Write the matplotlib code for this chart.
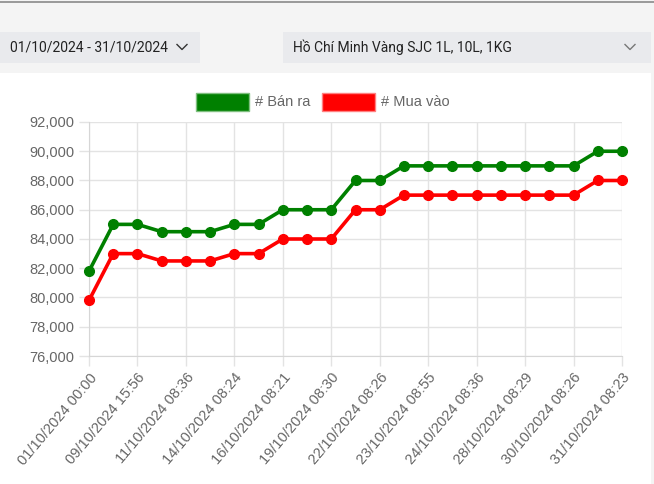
import matplotlib
matplotlib.use("Agg")
import matplotlib.pyplot as plt
from matplotlib.patches import Rectangle
from matplotlib.lines import Line2D
from matplotlib.ticker import FuncFormatter

# ---------------------------------------------------------------------------
# Données (prix en milliers de VND / lượng)
# ---------------------------------------------------------------------------
ban_ra = [81800, 85000, 85000, 84500, 84500, 84500, 85000, 85000,
          86000, 86000, 86000, 88000, 88000, 89000, 89000, 89000,
          89000, 89000, 89000, 89000, 89000, 90000, 90000]
mua_vao = [79800, 83000, 83000, 82500, 82500, 82500, 83000, 83000,
           84000, 84000, 84000, 86000, 86000, 87000, 87000, 87000,
           87000, 87000, 87000, 87000, 87000, 88000, 88000]
nhan_x = ["01/10/2024 00:00", "09/10/2024 15:56", "11/10/2024 08:36",
          "14/10/2024 08:24", "16/10/2024 08:21", "19/10/2024 08:30",
          "22/10/2024 08:26", "23/10/2024 08:55", "24/10/2024 08:36",
          "28/10/2024 08:29", "30/10/2024 08:26", "31/10/2024 08:23"]
y_ticks = [76000, 78000, 80000, 82000, 84000, 86000, 88000, 90000, 92000]

W, H = 654, 484
GRIS_TXT = "#666666"
GRILLE = "#e3e3e3"


def fx(px):
    return px / W


def fy(py):
    return 1 - py / H


fig = plt.figure(figsize=(W / 100, H / 100), dpi=100)
fig.patch.set_facecolor("white")

# Fond de page : bandeau gris en haut, panneau blanc
fig.patches.append(Rectangle((0, fy(73)), 1, 1 - fy(73), transform=fig.transFigure,
                             facecolor="#f4f4f4", edgecolor="none", zorder=0))
fig.patches.append(Rectangle((fx(651), 0), 1 - fx(651), 1, transform=fig.transFigure,
                             facecolor="#f4f4f4", edgecolor="none", zorder=0))
fig.lines.append(Line2D([0, 1], [fy(1.5), fy(1.5)], transform=fig.transFigure,
                        color="#8a8a8a", lw=1.2))

# Listes déroulantes
for x0, x1 in [(0, 200), (283, 651)]:
    fig.patches.append(Rectangle((fx(x0), fy(63)), fx(x1 - x0), fy(32) - fy(63),
                                 transform=fig.transFigure, facecolor="#e9eaed",
                                 edgecolor="none", zorder=1))
fig.text(fx(10), fy(47.5), "01/10/2024 - 31/10/2024", family="Roboto",
         fontsize=10, color="#222222", va="center", ha="left")
fig.text(fx(293), fy(47.5), "Hồ Chí Minh Vàng SJC 1L, 10L, 1KG", family="Roboto",
         fontsize=10, color="#222222", va="center", ha="left")
for cx, col in [(182, "#333333"), (630, "#777777")]:
    fig.lines.append(Line2D([fx(cx - 5), fx(cx), fx(cx + 5)],
                            [fy(44.5), fy(49.5), fy(44.5)],
                            transform=fig.transFigure, color=col, lw=1.0))

# Légende
for x0, couleur, bord, texte in [(196, "#008000", "#7fbf7f", "# Bán ra"),
                                 (322, "#ff0000", "#ff8080", "# Mua vào")]:
    fig.patches.append(Rectangle((fx(x0), fy(111)), fx(53), fy(93) - fy(111),
                                 transform=fig.transFigure, facecolor=couleur,
                                 edgecolor=bord, lw=1.0, zorder=2))
    fig.text(fx(x0 + 59), fy(102), texte, family="Liberation Sans",
             fontsize=10.5, color=GRIS_TXT, va="center", ha="left")

# ---------------------------------------------------------------------------
# Graphique
# ---------------------------------------------------------------------------
ax = fig.add_axes([fx(89), fy(356), fx(622 - 89), fy(122) - fy(356)])
ax.set_facecolor("white")
x = list(range(len(ban_ra)))

ax.plot(x, ban_ra, color="#008000", lw=2.6, marker="o", ms=7,
        clip_on=False, zorder=3)
ax.plot(x, mua_vao, color="#ff0000", lw=2.6, marker="o", ms=7,
        clip_on=False, zorder=3)

ax.set_xlim(0, len(x) - 1)
ax.set_ylim(y_ticks[0], y_ticks[-1])
ax.set_yticks(y_ticks)
ax.yaxis.set_major_formatter(FuncFormatter(lambda v, p: f"{v:,.0f}"))
ax.set_xticks(x[::2])
ax.set_xticklabels(nhan_x, rotation=50, ha="right", rotation_mode="anchor")

ax.grid(True, color=GRILLE, lw=1.0)
ax.set_axisbelow(True)
for cote in ["top", "right"]:
    ax.spines[cote].set_visible(False)
for cote in ["left", "bottom"]:
    ax.spines[cote].set_color("#d6d6d6")
ax.tick_params(axis="both", colors=GRILLE, length=7.5, width=1.0,
               labelcolor=GRIS_TXT, labelsize=10.5, pad=3)
for lab in ax.get_xticklabels() + ax.get_yticklabels():
    lab.set_family("Liberation Sans")

fig.savefig("out.png", dpi=100, facecolor=fig.get_facecolor())
